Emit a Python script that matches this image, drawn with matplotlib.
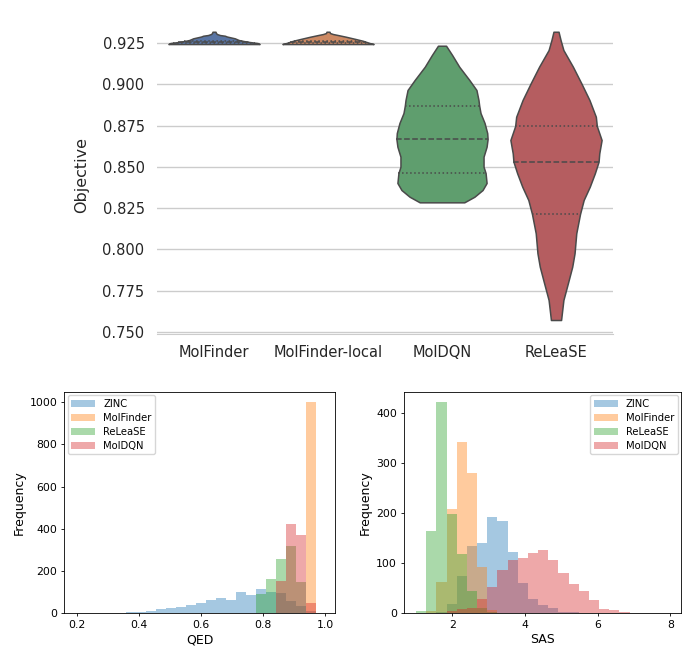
import numpy as np
import matplotlib
matplotlib.use("Agg")
import matplotlib.pyplot as plt
import seaborn as sns

METHODS = ["MolFinder", "MolFinder-local", "MolDQN", "ReLeaSE"]

# violin outlines: objective value and relative density
MF_Y = [0.92439, 0.92500, 0.92561, 0.92621, 0.92682, 0.92785, 0.92894, 0.92942, 0.92984, 0.93045, 0.93105, 0.93184]
MF_D = [46, 44, 36, 30, 25, 21, 13, 11, 6, 3, 2, 1.5]

MFL_Y = [0.92439, 0.92500, 0.92561, 0.92640, 0.92742, 0.92882, 0.92984, 0.93045, 0.93105, 0.93184]
MFL_D = [46, 42, 39, 35, 28, 18, 10, 5, 2, 1.5]

DQN_Y = [0.82854, 0.83193, 0.83599, 0.84023, 0.84629, 0.85010, 0.85616, 0.86221, 0.86687, 0.87051,
         0.87656, 0.88262, 0.88704, 0.89049, 0.89654, 0.90260, 0.91065, 0.91773, 0.92337]
DQN_D = [22, 32, 40, 44, 43, 41, 41, 44, 45, 44.6, 42, 38, 36.7, 36, 34, 27, 17, 10, 4]

RL_Y = [0.75728, 0.76939, 0.77950, 0.78955, 0.79767, 0.80978, 0.82146, 0.82994, 0.83799, 0.84610, 0.85313,
        0.85821, 0.86627, 0.87474, 0.88037, 0.89049, 0.90060, 0.91065, 0.92076, 0.92682, 0.93184]
RL_D = [5, 7.3, 11.7, 16, 18.3, 20, 23.7, 27.3, 33.3, 38.3, 42, 42.7, 45, 40.3, 39.3, 33, 25, 16.7, 7.3, 4.5, 2.5]

# lower quartile, median, upper quartile
QUARTILES = [(0.9252, 0.9256, 0.9262),
             (0.9253, 0.9258, 0.9265),
             (0.8463, 0.8669, 0.8870),
             (0.8215, 0.8531, 0.8747)]

HIST_LABELS = ["ZINC", "MolFinder", "ReLeaSE", "MolDQN"]

QED_BINS = np.linspace(0.1946, 0.9698, 25)
QED_ZINC = [0, 0, 0, 1, 3, 5, 6, 13, 20, 24, 30, 38, 47, 63, 73, 65, 101, 87, 114, 101, 98, 60, 35, 10]
QED_MOLFINDER = [0] * 23 + [1000]
QED_RELEASE = [0] * 17 + [3, 92, 163, 259, 321, 147, 0]
QED_MOLDQN = [0] * 20 + [152, 423, 371, 50]

SAS_BINS = np.linspace(1.0, 8.0, 26)
SAS_ZINC = [0, 0, 2, 19, 75, 135, 140, 192, 185, 123, 61, 28, 17, 10, 3, 2, 0, 0, 0, 0, 0, 0, 0, 0, 0]
SAS_MOLFINDER = [0, 5, 63, 209, 342, 281, 92, 6, 0, 0, 0, 0, 0, 0, 0, 0, 0, 0, 0, 0, 0, 0, 0, 0, 0]
SAS_RELEASE = [5, 165, 422, 198, 119, 45, 10, 3, 0, 0, 0, 0, 0, 0, 0, 0, 0, 0, 0, 0, 0, 0, 0, 0, 0]
SAS_MOLDQN = [0, 0, 0, 5, 8, 10, 29, 53, 87, 107, 110, 120, 126, 107, 81, 59, 45, 27, 8, 7, 2, 0, 0, 0, 0]

fig = plt.figure(figsize=(6.85, 6.59), dpi=100)

# ---- violin plot ----
ax = fig.add_axes([0.2292, 0.4939, 0.6657, 0.4636])
deep = sns.color_palette("deep")
colors = [sns.desaturate(c, 0.75) for c in deep[:4]]
outline = "#4a4a4a"

profiles = [(MF_Y, MF_D), (MFL_Y, MFL_D), (DQN_Y, DQN_D), (RL_Y, RL_D)]
stats = []
for (ys, ds), (q1, med, q3) in zip(profiles, QUARTILES):
    stats.append(dict(coords=np.array(ys), vals=np.array(ds, dtype=float),
                      mean=med, median=med, min=min(ys), max=max(ys)))
parts = ax.violin(stats, positions=range(4), widths=0.8,
                  showmeans=False, showextrema=False, showmedians=False)
for body, c in zip(parts["bodies"], colors):
    body.set_facecolor(c)
    body.set_edgecolor(outline)
    body.set_linewidth(1.1)
    body.set_alpha(1)
    body.set_zorder(2)

for i, ((ys, ds), qs) in enumerate(zip(profiles, QUARTILES)):
    d = np.array(ds, dtype=float)
    hw = 0.4 * d / d.max()
    for q, ls in zip(qs, [":", "--", ":"]):
        w = np.interp(q, ys, hw)
        ax.plot([i - w, i + w], [q, q], color=outline, lw=1.1, ls=ls, zorder=3)

ax.set_xlim(-0.5, 3.5)
ax.set_ylim(0.7491, 0.9341)
ax.set_yticks([0.750, 0.775, 0.800, 0.825, 0.850, 0.875, 0.900, 0.925])
ax.set_yticklabels(["%.3f" % v for v in ax.get_yticks()])
ax.set_xticks(range(4))
ax.set_xticklabels(METHODS)
ax.yaxis.grid(True, color="#cccccc", lw=1)
ax.set_axisbelow(True)
for s in ["left", "right", "top"]:
    ax.spines[s].set_visible(False)
ax.spines["bottom"].set_color("#cccccc")
ax.tick_params(axis="both", length=0, labelsize=10.5, colors="#262626")
ax.tick_params(axis="x", pad=8)
ax.tick_params(axis="y", pad=9)
ax.set_ylabel("Objective", fontsize=11.5, color="#262626")
ax.yaxis.set_label_coords(-0.149, 0.52)

# ---- histograms ----
hist_colors = ["C0", "C1", "C2", "C3"]


def draw_hist(axh, bins, series, xlabel, loc):
    for counts, lab, c in zip(series, HIST_LABELS, hist_colors):
        axh.hist(bins[:-1], bins=bins, weights=counts, alpha=0.4, color=c, label=lab)
    axh.set_xlabel(xlabel, fontsize=9, labelpad=2)
    axh.set_ylabel("Frequency", fontsize=9, labelpad=3)
    axh.tick_params(labelsize=7.8, length=2.5, width=0.6, pad=2.5)
    for s in axh.spines.values():
        s.set_linewidth(0.6)
    axh.legend(loc=loc, fontsize=7.2, handlelength=2.4, borderpad=0.35,
               labelspacing=0.4, borderaxespad=0.35)


ax2 = fig.add_axes([0.0939, 0.0693, 0.3952, 0.3363])
draw_hist(ax2, QED_BINS, [QED_ZINC, QED_MOLFINDER, QED_RELEASE, QED_MOLDQN], "QED", "upper left")
ax2.set_xlim(0.158, 1.032)
ax2.set_ylim(0, 1050)
ax2.set_xticks([0.2, 0.4, 0.6, 0.8, 1.0])
ax2.set_yticks([0, 200, 400, 600, 800, 1000])

ax3 = fig.add_axes([0.5898, 0.0693, 0.4045, 0.3363])
draw_hist(ax3, SAS_BINS, [SAS_ZINC, SAS_MOLFINDER, SAS_RELEASE, SAS_MOLDQN], "SAS", "upper right")
ax3.set_xlim(0.67, 8.3)
ax3.set_ylim(0, 443)
ax3.set_xticks([2, 4, 6, 8])
ax3.set_yticks([0, 100, 200, 300, 400])

fig.savefig("out.png", dpi=100)
